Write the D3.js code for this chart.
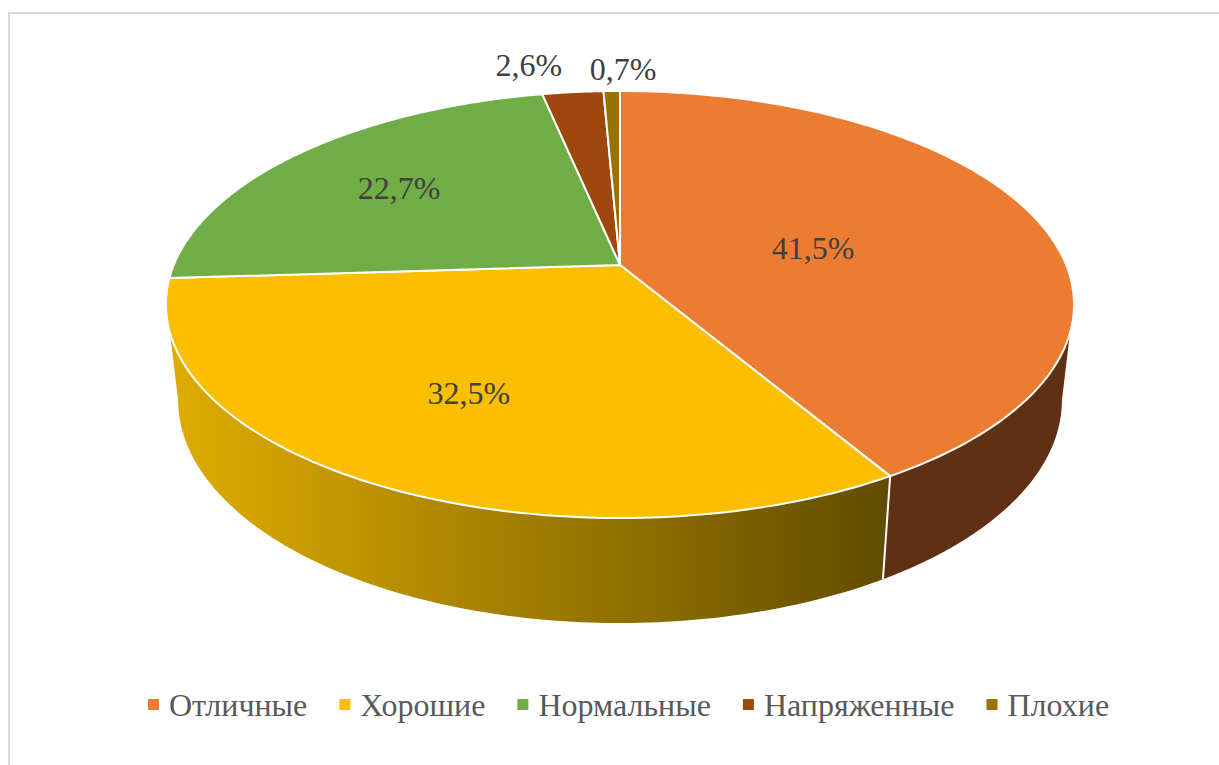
<!DOCTYPE html>
<html>
<head>
<meta charset="utf-8">
<script src="https://cdn.jsdelivr.net/npm/d3@7"></script>
<style>
  html, body { margin: 0; padding: 0; background: #fff; }
  svg { display: block; }
  text { font-family: "Liberation Serif", serif; }
</style>
</head>
<body>
<div id="chart"></div>
<script>
var categories = ["Отличные", "Хорошие", "Нормальные", "Напряженные", "Плохие"];
var values = [41.5, 32.5, 22.7, 2.6, 0.7];
var colors = ["#EB7C32", "#FBBE00", "#70AD47", "#9E480E", "#997300"];

var width = 1219, height = 765;

// perspective of the pie plane
var cx = 620, cy = 265, a = 446.2, b = 206.2, k = 0.185;
var topMidY = 304.5, lowMidY = 400, lowScaleX = 0.9733, lowScaleY = 1.0445;

// where the side wall starts on the top and on the bottom rim (radians from 12 o'clock)
var sideRightTop = 108.1 * Math.PI / 180, sideRightBottom = 100.7 * Math.PI / 180;
var sideLeftTop = 251.9 * Math.PI / 180, sideLeftBottom = 259.3 * Math.PI / 180;

// label placement: fraction of the radius, then a small nudge in px
var labelRadius = [0.46, 0.63, 0.667, 1.19, 1.155];
var labelNudge = [[-0.5, 7.5], [-4.5, 0], [-0.5, 0], [-36.5, 0], [12.5, 0]];

var svg = d3.select("#chart")
  .append("svg")
    .attr("width", width)
    .attr("height", height);

var defs = svg.append("defs");
var grad = defs.append("linearGradient")
    .attr("id", "yellowSide")
    .attr("gradientUnits", "userSpaceOnUse")
    .attr("x1", 168).attr("x2", 890)
    .attr("y1", 0).attr("y2", 0);
grad.append("stop").attr("offset", 0).attr("stop-color", "#DFAD00");
grad.append("stop").attr("offset", 1).attr("stop-color", "#614C00");

// chart frame, only top and left show in the picture
svg.append("path")
    .attr("d", "M9,765V13H1219")
    .attr("fill", "none")
    .attr("stroke", "#D9D9D9")
    .attr("stroke-width", 2);

function project(angle, r) {
  var u = r * Math.sin(angle), v = -r * Math.cos(angle);
  var w = 1 - k * v;
  return [cx + a * u / w, cy + b * v / w];
}

function projectLow(angle) {
  var p = project(angle, 1);
  return [cx + (p[0] - cx) * lowScaleX, lowMidY + (p[1] - topMidY) * lowScaleY];
}

function arcPoints(fn, from, to) {
  return d3.range(0, 121).map(function(i) {
    return fn(from + (to - from) * i / 120);
  });
}

var line = d3.line();
var arcs = d3.pie().sort(null).value(function(d) { return d; })(values);

function sidePath(topFrom, topTo, lowFrom, lowTo) {
  var top = arcPoints(function(t) { return project(t, 1); }, topFrom, topTo);
  var low = arcPoints(projectLow, lowFrom, lowTo);
  return line(top.concat(low)) + "Z";
}

// side walls, only the two front slices are visible
svg.append("path")
    .attr("d", sidePath(sideRightTop, arcs[0].endAngle, arcs[0].endAngle, sideRightBottom))
    .attr("fill", "#5F3014");
svg.append("path")
    .attr("d", sidePath(arcs[1].startAngle, sideLeftTop, sideLeftBottom, arcs[1].startAngle))
    .attr("fill", "url(#yellowSide)");

// seam between the two walls
svg.append("path")
    .attr("d", line([project(arcs[0].endAngle, 1), projectLow(arcs[0].endAngle)]))
    .attr("stroke", "#fff")
    .attr("stroke-width", 2);

// top face
svg.append("g").selectAll("path")
  .data(arcs)
  .enter().append("path")
    .attr("d", function(d) {
      var pts = arcPoints(function(t) { return project(t, 1); }, d.startAngle, d.endAngle);
      return line([[cx, cy]].concat(pts)) + "Z";
    })
    .attr("fill", function(d, i) { return colors[i]; })
    .attr("stroke", "#fff")
    .attr("stroke-width", 2)
    .attr("stroke-linejoin", "round");

// data labels
svg.append("g").selectAll("text")
  .data(arcs)
  .enter().append("text")
    .attr("x", function(d, i) {
      return project((d.startAngle + d.endAngle) / 2, labelRadius[i])[0] + labelNudge[i][0];
    })
    .attr("y", function(d, i) {
      return project((d.startAngle + d.endAngle) / 2, labelRadius[i])[1] + labelNudge[i][1];
    })
    .attr("text-anchor", "middle")
    .attr("dy", "0.35em")
    .attr("font-size", 32)
    .attr("fill", "#404040")
    .text(function(d) { return d.value.toFixed(1).replace(".", ",") + "%"; });

// legend, laid out from the measured text widths
var legend = svg.append("g");
var legendX = 148, legendY = 705;
categories.forEach(function(name, i) {
  var item = legend.append("g").attr("transform", "translate(" + legendX + ",0)");
  item.append("rect")
      .attr("x", 0)
      .attr("y", legendY - 6)
      .attr("width", 11)
      .attr("height", 11)
      .attr("fill", colors[i]);
  var label = item.append("text")
      .attr("x", 21)
      .attr("y", legendY)
      .attr("dy", "0.35em")
      .attr("font-size", 32)
      .attr("fill", "#595959")
      .text(name);
  legendX += 21 + label.node().getComputedTextLength() + 32;
});
</script>
</body>
</html>
